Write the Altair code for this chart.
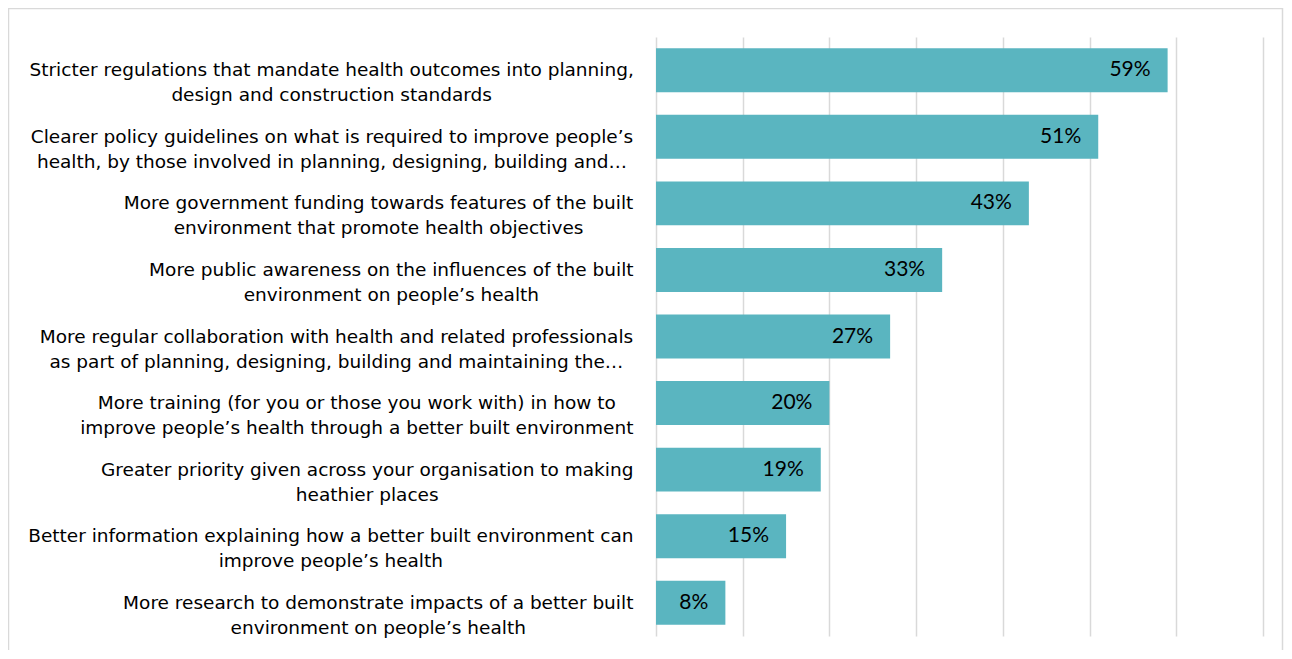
import glob
import struct

import altair as alt
import pandas as pd

line1 = [
    "Stricter regulations that mandate health outcomes into planning,",
    "Clearer policy guidelines on what is required to improve people’s",
    "More government funding towards features of the built",
    "More public awareness on the influences of the built",
    "More regular collaboration with health and related professionals",
    "More training (for you or those you work with) in how to",
    "Greater priority given across your organisation to making",
    "Better information explaining how a better built environment can",
    "More research to demonstrate impacts of a better built",
]
line2 = [
    "design and construction standards",
    "health, by those involved in planning, designing, building and…",
    "environment that promote health objectives",
    "environment on people’s health",
    "as part of planning, designing, building and maintaining the…",
    "improve people’s health through a better built environment",
    "heathier places",
    "improve people’s health",
    "environment on people’s health",
]
values = [0.59, 0.51, 0.43, 0.33, 0.27, 0.20, 0.19, 0.15, 0.08]

LABEL_FONT = "DejaVu Sans"
LABEL_SIZE = 18.5
LABEL_GAP = 22


def make_measurer():
    paths = glob.glob("/usr/share/fonts/**/DejaVuSans.ttf", recursive=True)
    if not paths:
        return lambda s, size: len(s) * 0.56 * size
    data = open(paths[0], "rb").read()
    num = struct.unpack(">H", data[4:6])[0]
    tables = {}
    for i in range(num):
        tag, _cs, off, ln = struct.unpack(">4sIII", data[12 + 16 * i:28 + 16 * i])
        tables[tag.decode("latin-1")] = off
    head = tables["head"]
    upem = struct.unpack(">H", data[head + 18:head + 20])[0]
    hhea = tables["hhea"]
    nhm = struct.unpack(">H", data[hhea + 34:hhea + 36])[0]
    hmtx = tables["hmtx"]
    adv = [struct.unpack(">H", data[hmtx + 4 * i:hmtx + 4 * i + 2])[0] for i in range(nhm)]
    cmap = tables["cmap"]
    n = struct.unpack(">H", data[cmap + 2:cmap + 4])[0]
    st = None
    for i in range(n):
        pid, eid, off = struct.unpack(">HHI", data[cmap + 4 + 8 * i:cmap + 12 + 8 * i])
        s = cmap + off
        fmt = struct.unpack(">H", data[s:s + 2])[0]
        if fmt == 4 and ((pid == 3 and eid == 1) or pid == 0):
            st = s
            break
    if st is None:
        return lambda s, size: len(s) * 0.56 * size
    segx2 = struct.unpack(">H", data[st + 6:st + 8])[0]
    segs = segx2 // 2
    ends = struct.unpack(">%dH" % segs, data[st + 14:st + 14 + segx2])
    so = st + 16 + segx2
    starts = struct.unpack(">%dH" % segs, data[so:so + segx2])
    do = so + segx2
    deltas = struct.unpack(">%dh" % segs, data[do:do + segx2])
    ro = do + segx2
    ros = struct.unpack(">%dH" % segs, data[ro:ro + segx2])

    def gid(c):
        for k in range(segs):
            if ends[k] >= c:
                if starts[k] > c:
                    return 0
                if ros[k] == 0:
                    return (c + deltas[k]) & 0xFFFF
                addr = ro + 2 * k + ros[k] + 2 * (c - starts[k])
                g = struct.unpack(">H", data[addr:addr + 2])[0]
                return (g + deltas[k]) & 0xFFFF if g else 0
        return 0

    def width(s, size):
        tot = 0
        for ch in s:
            g = gid(ord(ch))
            tot += adv[min(g, nhm - 1)]
        return tot * size / upem

    return width


measure = make_measurer()

cats = [a + "|" + b for a, b in zip(line1, line2)]
centers = [-LABEL_GAP - max(measure(a, LABEL_SIZE), measure(b, LABEL_SIZE)) / 2
           for a, b in zip(line1, line2)]

df = pd.DataFrame({"cat": cats, "val": values, "cx": centers})

x = alt.X("val:Q", scale=alt.Scale(domain=[0, 0.7], nice=False),
          axis=alt.Axis(values=[0, 0.1, 0.2, 0.3, 0.4, 0.5, 0.6, 0.7], labels=False, ticks=False,
                        domain=False, grid=True, gridColor="#d9d9d9", gridWidth=1.5, title=None))
y = alt.Y("cat:N", sort=cats, scale=alt.Scale(paddingInner=0.34, paddingOuter=0.17),
          axis=None)

bars = alt.Chart(df).mark_bar(color="#5ab5c0").encode(x=x, y=y)
text = alt.Chart(df).mark_text(align="right", dx=-17, font="Lato", fontSize=21, color="#000000").encode(
    x=x, y=y, text=alt.Text("val:Q", format=".0%"))
labels = alt.Chart(df).mark_text(align="center", baseline="middle", lineBreak="|", lineHeight=25,
                                 font=LABEL_FONT, fontSize=LABEL_SIZE, color="#000000").encode(
    x=alt.X("cx:Q", scale=None), y=y, text="cat:N")

frame = alt.Chart(alt.Data(values=[{}])).mark_rect(filled=False, stroke="#d9d9d9", strokeWidth=1.5).encode(
    x=alt.value(-647.5), x2=alt.value(626.5), y=alt.value(-28.5), y2=alt.value(700))

chart = alt.layer(bars, text, labels, frame).properties(
    width=607, height=599,
    padding={"left": 648, "top": 29, "right": 21, "bottom": 14},
    autosize=alt.AutoSizeParams(type="none"),
    background="#ffffff",
).configure_view(stroke=None)

chart.save("out.html", embed_options={"renderer": "svg", "actions": False})
